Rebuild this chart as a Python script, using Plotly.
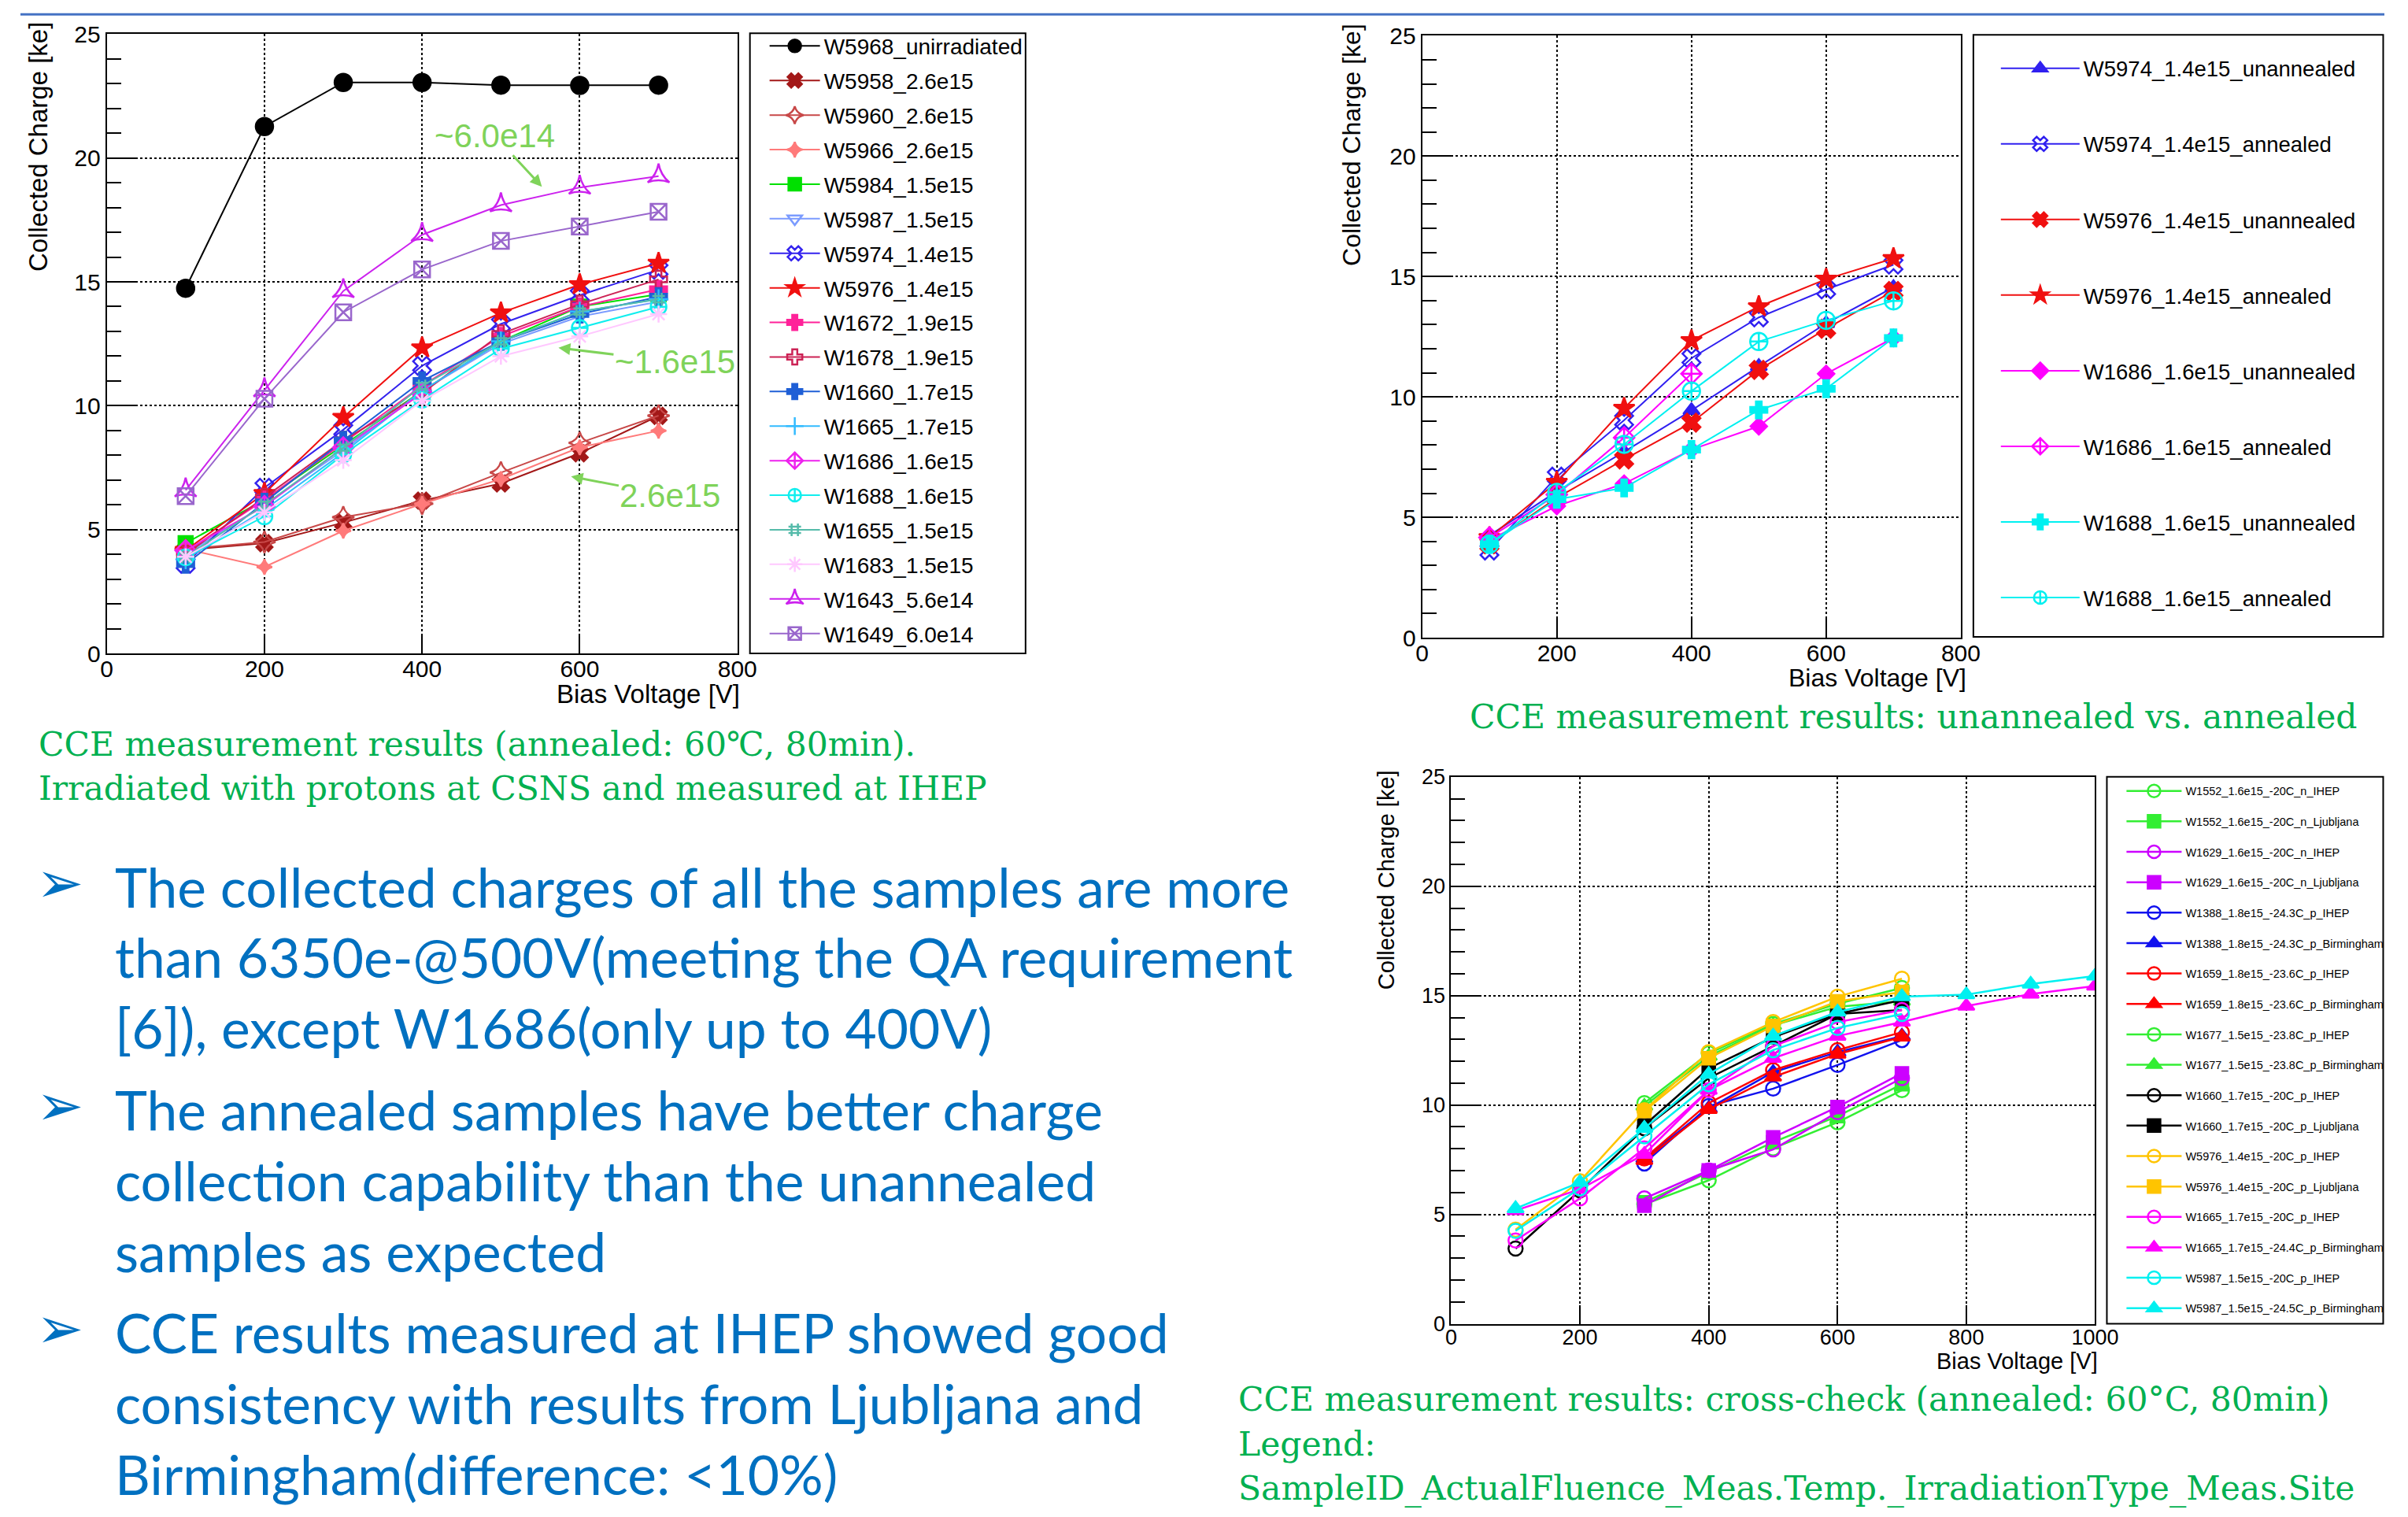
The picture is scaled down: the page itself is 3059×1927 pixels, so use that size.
import plotly.graph_objects as go

W, H = 3059, 1927
# positions below are given in target-picture pixels; small linear correction measured from earlier renders
def fx(t): return min(((t - 10) / 0.990) / W, 0.9995)
def fy(t): return 1 - ((t - 13.6) / 0.984) / H

# ---------------- data: chart 1 (annealed, protons @ CSNS, measured @ IHEP) ----------------
V1 = [100, 200, 300, 400, 500, 600, 700]
V1_400 = [100, 200, 300, 400]
c1_W5968 = [14.74, 21.27, 23.05, 23.05, 22.94, 22.93, 22.94]
c1_W5958 = [4.18, 4.45, 5.28, 6.17, 6.86, 8.08, 9.59]
c1_W5960 = [4.22, 4.50, 5.50, 6.05, 7.30, 8.50, 9.60]
c1_W5966 = [4.22, 3.49, 4.95, 6.04, 7.04, 8.32, 8.99]
c1_W5984 = [4.45, 6.20, 8.40, 10.60, 12.60, 14.00, 14.50]
c1_W5987 = [4.00, 6.00, 8.20, 10.60, 12.50, 13.60, 14.20]
c1_W5974 = [3.62, 6.69, 9.03, 11.61, 13.30, 14.46, 15.49]
c1_W5976 = [4.16, 6.46, 9.53, 12.34, 13.75, 14.89, 15.75]
c1_W1672 = [4.10, 6.20, 8.50, 10.80, 12.80, 14.00, 14.70]
c1_W1678 = [4.00, 6.30, 8.60, 10.50, 12.90, 14.10, 15.10]
c1_W1660 = [3.60, 6.10, 8.60, 11.00, 12.60, 13.70, 14.40]
c1_W1665 = [3.80, 5.80, 8.10, 10.60, 12.60, 13.80, 14.30]
c1_W1686 = [4.16, 5.94, 8.31, 10.50]
c1_W1688 = [3.88, 5.53, 8.03, 10.24, 12.30, 13.14, 13.99]
c1_W1655 = [3.90, 6.00, 8.30, 10.80, 12.60, 13.80, 14.30]
c1_W1683 = [3.90, 5.70, 7.80, 10.20, 12.00, 12.80, 13.70]
c1_W1643 = [6.59, 10.63, 14.63, 16.90, 18.10, 18.81, 19.27]
c1_W1649 = [6.35, 10.28, 13.77, 15.50, 16.65, 17.23, 17.83]

chart1 = [
    ("W5968_unirradiated", V1, c1_W5968),
    ("W5958_2.6e15", V1, c1_W5958),
    ("W5960_2.6e15", V1, c1_W5960),
    ("W5966_2.6e15", V1, c1_W5966),
    ("W5984_1.5e15", V1, c1_W5984),
    ("W5987_1.5e15", V1, c1_W5987),
    ("W5974_1.4e15", V1, c1_W5974),
    ("W5976_1.4e15", V1, c1_W5976),
    ("W1672_1.9e15", V1, c1_W1672),
    ("W1678_1.9e15", V1, c1_W1678),
    ("W1660_1.7e15", V1, c1_W1660),
    ("W1665_1.7e15", V1, c1_W1665),
    ("W1686_1.6e15", V1_400, c1_W1686),
    ("W1688_1.6e15", V1, c1_W1688),
    ("W1655_1.5e15", V1, c1_W1655),
    ("W1683_1.5e15", V1, c1_W1683),
    ("W1643_5.6e14", V1, c1_W1643),
    ("W1649_6.0e14", V1, c1_W1649),
]

# ---------------- data: chart 2 (unannealed vs annealed) ----------------
V2 = [100, 200, 300, 400, 500, 600, 700]
V2_400 = [100, 200, 300, 400]
c2_W5974_un = [4.25, 6.07, 7.72, 9.44, 11.27, 13.05, 14.55]
c2_W5974_an = [3.62, 6.69, 9.03, 11.61, 13.30, 14.46, 15.49]
c2_W5976_un = [3.88, 5.81, 7.40, 8.93, 11.12, 12.83, 14.40]
c2_W5976_an = [4.16, 6.46, 9.53, 12.34, 13.75, 14.89, 15.75]
c2_W1686_un = [4.06, 5.47, 6.40, 7.81, 8.78, 10.96, 12.45]
c2_W1686_an = [4.16, 5.94, 8.31, 10.96]
c2_W1688_un = [3.88, 5.75, 6.22, 7.81, 9.46, 10.34, 12.45]
c2_W1688_an = [3.88, 6.03, 8.03, 10.24, 12.30, 13.18, 13.99]

chart2 = [
    ("W5974_1.4e15_unannealed", V2, c2_W5974_un),
    ("W5974_1.4e15_annealed", V2, c2_W5974_an),
    ("W5976_1.4e15_unannealed", V2, c2_W5976_un),
    ("W5976_1.4e15_annealed", V2, c2_W5976_an),
    ("W1686_1.6e15_unannealed", V2, c2_W1686_un),
    ("W1686_1.6e15_annealed", V2_400, c2_W1686_an),
    ("W1688_1.6e15_unannealed", V2, c2_W1688_un),
    ("W1688_1.6e15_annealed", V2, c2_W1688_an),
]

# ---------------- data: chart 3 (cross-check) ----------------
V3 = [100, 200, 300, 400, 500, 600, 700]
V3_hi = [300, 400, 500, 600, 700]
V3_ext = [100, 200, 300, 400, 500, 600, 700, 800, 900, 1000]
c3_W1552_IHEP = [5.46, 6.56, 8.02, 9.21, 10.68]
c3_W1552_Lj = [5.55, 6.92, 8.30, 9.49, 10.95]
c3_W1629_IHEP = [5.73, 7.01, 7.97, 9.67, 11.23]
c3_W1629_Lj = [5.40, 7.01, 8.52, 9.91, 11.45]
c3_W1388_IHEP = [7.33, 9.95, 10.75, 11.83, 12.97]
c3_W1388_Bi = [7.56, 9.85, 11.50, 12.42, 13.15]
c3_W1659_IHEP = [7.56, 10.09, 11.59, 12.51, 13.33]
c3_W1659_Bi = [7.47, 9.80, 11.28, 12.33, 13.11]
c3_W1677_IHEP = [10.09, 12.36, 13.70, 14.63, 15.35]
c3_W1677_Bi = [9.95, 12.23, 13.64, 14.49, 14.75]
c3_W1660_IHEP = [3.44, 6.10, 8.94, 11.23, 12.69, 14.16, 14.34]
c3_W1660_Lj = [9.07, 11.68, 13.10, 14.16, 14.80]
c3_W5976_IHEP = [4.30, 6.52, 9.76, 12.42, 13.79, 14.95, 15.77]
c3_W5976_Lj = [9.73, 12.14, 13.61, 14.74, 15.16]
c3_W1665_IHEP = [3.81, 5.73, 8.02, 10.68, 12.69, 13.79, 14.34]
c3_W1665_Bi = [5.18, 6.15, 7.75, 10.68, 12.14, 13.15, 13.79, 14.52, 15.07, 15.44]
c3_W5987_IHEP = [4.25, 6.19, 8.57, 10.95, 12.51, 13.52, 14.16]
c3_W5987_Bi = [5.27, 6.47, 8.94, 11.41, 13.15, 14.25, 14.95, 15.04, 15.53, 15.90]

chart3 = [
    ("W1552_1.6e15_-20C_n_IHEP", V3_hi, c3_W1552_IHEP),
    ("W1552_1.6e15_-20C_n_Ljubljana", V3_hi, c3_W1552_Lj),
    ("W1629_1.6e15_-20C_n_IHEP", V3_hi, c3_W1629_IHEP),
    ("W1629_1.6e15_-20C_n_Ljubljana", V3_hi, c3_W1629_Lj),
    ("W1388_1.8e15_-24.3C_p_IHEP", V3_hi, c3_W1388_IHEP),
    ("W1388_1.8e15_-24.3C_p_Birmingham", V3_hi, c3_W1388_Bi),
    ("W1659_1.8e15_-23.6C_p_IHEP", V3_hi, c3_W1659_IHEP),
    ("W1659_1.8e15_-23.6C_p_Birmingham", V3_hi, c3_W1659_Bi),
    ("W1677_1.5e15_-23.8C_p_IHEP", V3_hi, c3_W1677_IHEP),
    ("W1677_1.5e15_-23.8C_p_Birmingham", V3_hi, c3_W1677_Bi),
    ("W1660_1.7e15_-20C_p_IHEP", V3, c3_W1660_IHEP),
    ("W1660_1.7e15_-20C_p_Ljubljana", V3_hi, c3_W1660_Lj),
    ("W5976_1.4e15_-20C_p_IHEP", V3, c3_W5976_IHEP),
    ("W5976_1.4e15_-20C_p_Ljubljana", V3_hi, c3_W5976_Lj),
    ("W1665_1.7e15_-20C_p_IHEP", V3, c3_W1665_IHEP),
    ("W1665_1.7e15_-24.4C_p_Birmingham", V3_ext, c3_W1665_Bi),
    ("W5987_1.5e15_-20C_p_IHEP", V3, c3_W5987_IHEP),
    ("W5987_1.5e15_-24.5C_p_Birmingham", V3_ext, c3_W5987_Bi),
]

X_TICKS_800 = [0, 200, 400, 600, 800]
X_TICKS_1000 = [0, 200, 400, 600, 800, 1000]

# ---------------- styles ----------------
sty1 = [
    ("#000000", "circle", 22),
    ("#a31818", "x", 18),
    ("#c84848", "star-diamond-open", 20),
    ("#ff7a7a", "star-diamond", 14),
    ("#00e000", "square", 18),
    ("#7b9bff", "triangle-down-open", 18),
    ("#3322ee", "x-open", 20),
    ("#f01010", "star", 20),
    ("#ff2299", "cross", 18),
    ("#cc2255", "cross-open", 18),
    ("#1f5fd6", "cross", 18),
    ("#33bbff", "cross-thin", 18),
    ("#ee22ee", "diamond-cross-open", 20),
    ("#11eeee", "circle-cross-open", 20),
    ("#55bbaa", "hash", 16),
    ("#ffc8ff", "asterisk", 18),
    ("#cc22ee", "star-triangle-up-open", 20),
    ("#9966cc", "square-x-open", 20),
]
sty2 = [
    ("#3020f0", "triangle-up", 18),
    ("#3020f0", "x-open", 20),
    ("#f01010", "x", 20),
    ("#f01010", "star", 20),
    ("#ff00ff", "diamond", 16),
    ("#ff00ff", "diamond-cross-open", 20),
    ("#00f0f0", "cross", 18),
    ("#00f0f0", "circle-cross-open", 22),
]
sty3 = [
    ("#33ee33", "circle-open", 18),
    ("#33ee33", "square", 16),
    ("#cc00ff", "circle-open", 18),
    ("#cc00ff", "square", 16),
    ("#1111ee", "circle-open", 18),
    ("#1111ee", "triangle-up", 18),
    ("#ff0000", "circle-open", 18),
    ("#ff0000", "triangle-up", 18),
    ("#33ee33", "circle-open", 18),
    ("#33ee33", "triangle-up", 18),
    ("#000000", "circle-open", 18),
    ("#000000", "square", 16),
    ("#ffc400", "circle-open", 18),
    ("#ffc400", "square", 16),
    ("#ff00ff", "circle-open", 18),
    ("#ff00ff", "triangle-up", 18),
    ("#00f0f0", "circle-open", 18),
    ("#00f0f0", "triangle-up", 18),
]

fig = go.Figure()

def add_traces(series, styles, xa, ya, leg, lw):
    for (name, xs, ys), (col, sym, sz) in zip(series, styles):
        fig.add_trace(go.Scatter(
            x=xs, y=ys, mode="lines+markers", name=name,
            line=dict(color=col, width=lw),
            marker=dict(symbol=sym, size=sz, color=col, line=dict(color=col, width=2.5)),
            xaxis=xa, yaxis=ya, legend=leg, legendgroup=leg + name, showlegend=True))

add_traces(chart1, sty1, "x", "y", "legend", 2)
add_traces(chart2, sty2, "x2", "y2", "legend2", 2)
add_traces(chart3, sty3, "x3", "y3", "legend3", 2.5)

AXF = "Liberation Sans"

def xax(dom, rng, tv, size, anchor):
    return dict(domain=dom, range=rng, tickvals=tv, anchor=anchor,
                showline=True, linecolor="black", linewidth=2, mirror=True,
                ticks="inside", ticklen=24, tickwidth=2, tickcolor="black",
                ticklabelstandoff=-8,
                showgrid=True, gridcolor="black", griddash="dot", gridwidth=2,
                zeroline=False, tickfont=dict(family=AXF, size=size, color="black"))

def yax(dom, size, anchor):
    return dict(domain=dom, range=[0, 25], tickvals=[0, 5, 10, 15, 20, 25], anchor=anchor,
                showline=True, linecolor="black", linewidth=2, mirror=True,
                ticks="inside", ticklen=36, tickwidth=2, tickcolor="black",
                minor=dict(ticks="inside", ticklen=18, tickwidth=2, tickcolor="black", dtick=1, showgrid=False),
                showgrid=True, gridcolor="black", griddash="dot", gridwidth=2,
                zeroline=False, tickfont=dict(family=AXF, size=size, color="black"))

def leg(x, y, size, iw, gap):
    return dict(x=fx(x), y=fy(y), xanchor="left", yanchor="top", bgcolor="rgba(0,0,0,0)",
                borderwidth=0, font=dict(family=AXF, size=size, color="black"),
                itemwidth=iw, tracegroupgap=gap, traceorder="grouped")

fig.update_layout(
    width=W, height=H, margin=dict(l=0, r=0, t=0, b=0), autosize=False,
    paper_bgcolor="white", plot_bgcolor="white",
    xaxis=xax([fx(138), fx(941)], [0, 800], X_TICKS_800, 30, "y"),
    yaxis=yax([fy(828), fy(40)], 30, "x"),
    xaxis2=xax([fx(1813), fx(2499)], [0, 800], X_TICKS_800, 30, "y2"),
    yaxis2=yax([fy(808), fy(42)], 30, "x2"),
    xaxis3=xax([fx(1850), fx(2670)], [0, 1000], X_TICKS_1000, 27, "y3"),
    yaxis3=yax([fy(1681), fy(985)], 27, "x3"),
    legend=leg(977, 30.3, 28, 64, 4.5),
    legend2=leg(2545, 59, 27.5, 100, 57.3),
    legend3=leg(2705, 987, 14.5, 70, 16.8),
)

shapes = [
    dict(type="line", xref="paper", yref="paper", x0=fx(28), x1=1, y0=0.9993, y1=0.9993,
         line=dict(color="#4472C4", width=3)),
    dict(type="rect", xref="paper", yref="paper", x0=fx(957), x1=fx(1308), y0=fy(828), y1=fy(39),
         line=dict(color="black", width=2)),
    dict(type="rect", xref="paper", yref="paper", x0=fx(2515), x1=fx(3037), y0=fy(807), y1=fy(41),
         line=dict(color="black", width=2)),
    dict(type="rect", xref="paper", yref="paper", x0=fx(2685), x1=fx(3042), y0=fy(1681), y1=fy(985),
         line=dict(color="black", width=2)),
]
fig.update_layout(shapes=shapes)

ann = []
# axis titles (ROOT style: right / top aligned)
ax_titles = [
    ("Bias Voltage [V]", 946, 880, "right", 0, 33),
    ("Collected Charge [ke]", 50, 183, "center", -90, 33),
    ("Bias Voltage [V]", 2508, 859, "right", 0, 32),
    ("Collected Charge [ke]", 1723, 181, "center", -90, 32),
    ("Bias Voltage [V]", 2676, 1728, "right", 0, 29),
    ("Collected Charge [ke]", 1767, 1116, "center", -90, 29),
]
for t, x0, y0, xa, ang, sz in ax_titles:
    ann.append(dict(text=t, x=fx(x0), y=fy(y0), xref="paper", yref="paper", xanchor=xa,
                    yanchor="middle", textangle=ang, showarrow=False,
                    font=dict(family=AXF, size=sz, color="black")))

# fluence labels with arrows in chart 1
LG = "#7fd35a"
arrows = [
    ("~6.0e14", 552, 18.84, -60, -65),
    ("~1.6e15", 573, 12.34, 148, 18),
    ("2.6e15", 589, 7.14, 126, 24),
]
for t, xv, yv, dx, dy in arrows:
    ann.append(dict(text=t, x=xv, y=yv, xref="x", yref="y", ax=dx, ay=dy, showarrow=True,
                    arrowhead=2, arrowsize=1, arrowwidth=3, arrowcolor=LG,
                    font=dict(family=AXF, size=42, color=LG)))

# captions
GREEN = "#00B050"
CAPF = "DejaVu Serif"
caps = [
    ("CCE measurement results (annealed: 60℃, 80min).", 49, 944),
    ("Irradiated with protons at CSNS and measured at IHEP", 49, 1000),
    ("CCE measurement results: unannealed vs. annealed", 1872, 909),
    ("CCE measurement results: cross-check (annealed: 60°C, 80min)", 1577, 1777),
    ("Legend:", 1577, 1834),
    ("SampleID_ActualFluence_Meas.Temp._IrradiationType_Meas.Site", 1577, 1890),
]
for t, x0, y0 in caps:
    ann.append(dict(text=t, x=fx(x0), y=fy(y0), xref="paper", yref="paper", xanchor="left",
                    yanchor="middle", align="left", showarrow=False,
                    font=dict(family=CAPF, size=42.5, color=GREEN)))

# bullet text
BLUE = "#0070C0"
BF = "Lato"
lines = [
    ("The collected charges of all the samples are more", 1124),
    ("than 6350e-@500V(meeting the QA requirement", 1214),
    ("[6]), except W1686(only up to 400V)", 1304),
    ("The annealed samples have better charge", 1408),
    ("collection capability than the unannealed", 1498),
    ("samples as expected", 1588),
    ("CCE results measured at IHEP showed good", 1691),
    ("consistency with results from Ljubljana and", 1782),
    ("Birmingham(difference: <10%)", 1872),
]
for t, y0 in lines:
    ann.append(dict(text=t, x=fx(146), y=fy(y0), xref="paper", yref="paper", xanchor="left",
                    yanchor="middle", align="left", showarrow=False,
                    font=dict(family=BF, size=69.5, color=BLUE)))
for y0 in [1119, 1403, 1686]:
    ann.append(dict(text="➢", x=fx(78), y=fy(y0), xref="paper", yref="paper", xanchor="center",
                    yanchor="middle", showarrow=False, font=dict(family="DejaVu Sans", size=72, color=BLUE)))

fig.update_layout(annotations=ann)

fig.write_html("out.html", config={"displayModeBar": False},
               post_script="document.body.style.margin='0';document.body.style.overflow='hidden';")
